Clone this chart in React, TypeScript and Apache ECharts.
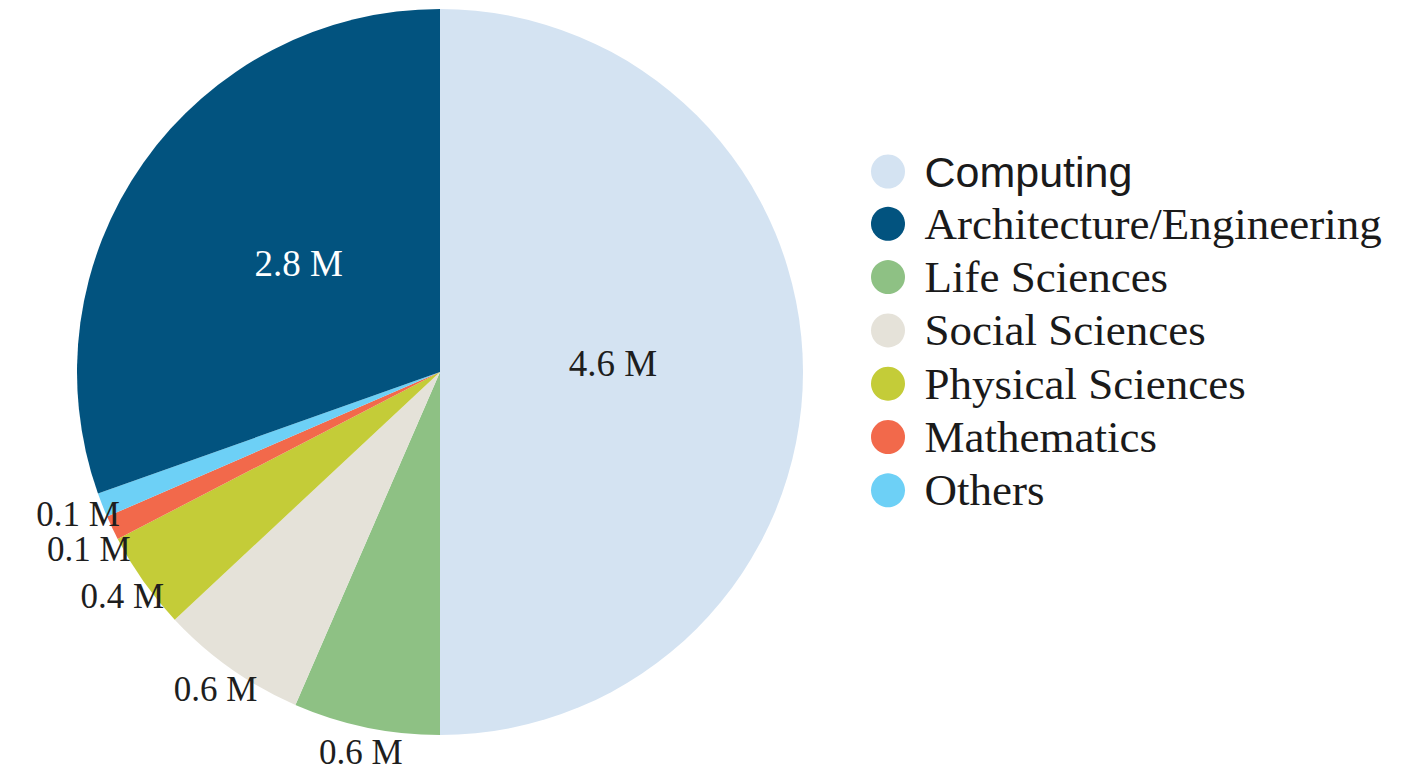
import React, { useEffect, useRef } from "react";
import * as echarts from "echarts";

// Categories in legend order
const CATEGORIES = [
  "Computing",
  "Architecture/Engineering",
  "Life Sciences",
  "Social Sciences",
  "Physical Sciences",
  "Mathematics",
  "Others",
];
// Values in millions, same order as CATEGORIES
const VALUES = [4.6, 2.8, 0.6, 0.6, 0.4, 0.1, 0.1];
const COLORS = ["#d4e3f2", "#02537f", "#8ec184", "#e5e2d9", "#c4cc38", "#f2694b", "#6dd0f6"];
// Order of slices clockwise from 12 o'clock
const SLICE_ORDER = [
  "Computing",
  "Life Sciences",
  "Social Sciences",
  "Physical Sciences",
  "Mathematics",
  "Others",
  "Architecture/Engineering",
];
const SANS_LEGEND = ["Computing"];
const UNIT = " M";

const SERIF = "'Liberation Serif', 'Times New Roman', serif";
const SANS = "'Liberation Sans', Arial, sans-serif";

function isDark(hex: string) {
  const r = parseInt(hex.slice(1, 3), 16);
  const g = parseInt(hex.slice(3, 5), 16);
  const b = parseInt(hex.slice(5, 7), 16);
  return 0.299 * r + 0.587 * g + 0.114 * b < 128;
}

export default function App() {
  const ref = useRef<HTMLDivElement>(null);
  useEffect(() => {
    if (!ref.current) return;
    const chart = echarts.init(ref.current, undefined, { renderer: "svg" });
    const total = VALUES.reduce((a, b) => a + b, 0);
    const slices = SLICE_ORDER.map((name) => {
      const i = CATEGORIES.indexOf(name);
      return { name, value: VALUES[i], color: COLORS[i] };
    });
    const mainData = slices.map((s) => ({
      name: s.name,
      value: s.value,
      itemStyle: { color: s.color },
    }));
    const innerLabelData = slices.map((s) => ({
      name: s.name,
      value: s.value,
      label: {
        show: s.value / total > 0.1,
        color: isDark(s.color) ? "#ffffff" : "#1e1e1e",
      },
    }));
    const outerLabelData = slices.map((s) => ({
      name: s.name,
      value: s.value,
      label: { show: s.value / total <= 0.1 },
    }));
    const labelSeriesBase = {
      type: "pie",
      center: [440, 372],
      startAngle: 90,
      clockwise: true,
      avoidLabelOverlap: false,
      silent: true,
      itemStyle: { color: "rgba(0,0,0,0)" },
      labelLine: { show: false },
    };
    chart.setOption({
      animation: false,
      backgroundColor: "#ffffff",
      legend: {
        orient: "vertical",
        left: 866,
        top: 145,
        icon: "circle",
        itemWidth: 37,
        itemHeight: 34,
        itemGap: 8.3,
        selectedMode: false,
        data: CATEGORIES,
        formatter: (name: string) =>
          SANS_LEGEND.includes(name) ? `{sans|${name}}` : `{serif|${name}}`,
        textStyle: {
          padding: [0, 0, 0, 13],
          lineHeight: 34,
          rich: {
            sans: { fontFamily: SANS, fontSize: 43, color: "#1a1a1a", lineHeight: 34 },
            serif: { fontFamily: SERIF, fontSize: 45, color: "#1a1a1a", lineHeight: 34 },
          },
        },
      },
      series: [
        {
          type: "pie",
          center: [440, 372],
          radius: [0, 363],
          startAngle: 90,
          clockwise: true,
          silent: true,
          label: { show: false },
          labelLine: { show: false },
          data: mainData,
        },
        {
          ...labelSeriesBase,
          radius: [0, 340],
          label: {
            position: "inside",
            formatter: (p: any) => `${p.value}${UNIT}`,
            fontFamily: SERIF,
            fontSize: 37,
            offset: [0, -9],
          },
          data: innerLabelData,
        },
        {
          ...labelSeriesBase,
          radius: [368, 404],
          label: {
            position: "inside",
            formatter: (p: any) => `${p.value}${UNIT}`,
            fontFamily: SERIF,
            fontSize: 35,
            lineHeight: 26,
            color: "#1e1e1e",
          },
          labelLayout: { moveOverlap: "shiftY" },
          data: outerLabelData,
        },
      ],
    });
    return () => chart.dispose();
  }, []);
  return (
    <div
      ref={ref}
      style={{ position: "absolute", left: 0, top: 0, width: 1406, height: 771 }}
    />
  );
}
